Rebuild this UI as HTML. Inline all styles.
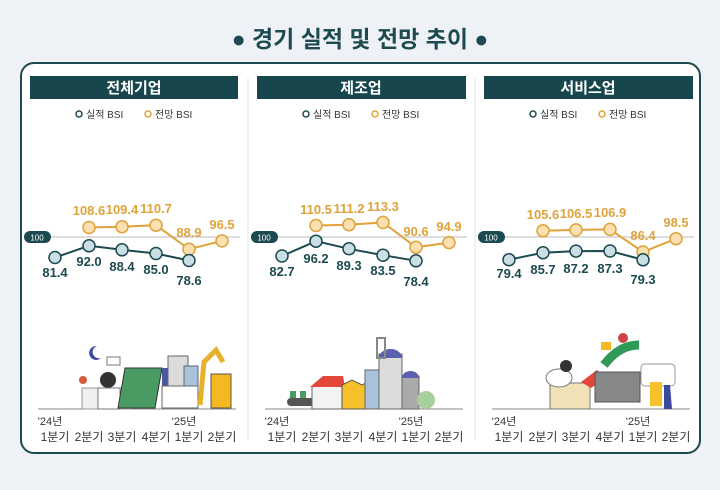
<!DOCTYPE html>
<html><head><meta charset="utf-8"><style>
body{margin:0;width:720px;height:485px;background:#eef1f5;overflow:hidden;font-family:"Liberation Sans","Noto Sans CJK KR",sans-serif}
</style></head><body>
<svg width="720" height="485" viewBox="0 0 720 485" xmlns="http://www.w3.org/2000/svg" font-family="Liberation Sans, Noto Sans CJK KR, sans-serif">
<rect x="0" y="0" width="720" height="485" fill="#eef1f5"/>
<text x="360" y="47" text-anchor="middle" font-size="23" font-weight="bold" fill="#1c4a50">● 경기 실적 및 전망 추이 ●</text>
<rect x="21" y="63" width="679" height="390" rx="13" fill="#fff" stroke="#1c4a50" stroke-width="2"/>
<line x1="248" y1="78" x2="248" y2="440" stroke="#e3e3e3"/>
<line x1="475" y1="78" x2="475" y2="440" stroke="#e3e3e3"/>
<defs>
<g id="axis">
<line x1="26" y1="237" x2="240" y2="237" stroke="#bbb" stroke-width="1"/>
<rect x="24" y="231" width="27" height="12" rx="6" fill="#1c4a50"/>
<text x="37" y="240.5" text-anchor="middle" font-size="8" fill="#fff">100</text>
<circle cx="79" cy="114" r="3" fill="none" stroke="#1c4a50" stroke-width="1.5"/>
<text x="86" y="118" font-size="10" fill="#333">실적 BSI</text>
<circle cx="148" cy="114" r="3" fill="none" stroke="#e0a23a" stroke-width="1.5"/>
<text x="155" y="118" font-size="10" fill="#333">전망 BSI</text>
<line x1="38" y1="409" x2="236" y2="409" stroke="#888" stroke-width="1"/>
<g font-size="12" fill="#333" text-anchor="middle">
<text x="50" y="425" font-size="11">'24년</text>
<text x="184" y="425" font-size="11">'25년</text>
<text x="55" y="441">1분기</text><text x="89" y="441">2분기</text><text x="122" y="441">3분기</text><text x="156" y="441">4분기</text><text x="189" y="441">1분기</text><text x="222" y="441">2분기</text>
</g>
</g>
</defs>

<!-- panel 1 -->
<g>
<rect x="30" y="76" width="208" height="23" fill="#17474d"/>
<text x="134" y="93" text-anchor="middle" font-size="15" font-weight="bold" fill="#fff">전체기업</text>
<use href="#axis"/>
<polyline points="89,227.5 122,226.7 156,225.2 189,249.2 222,240.9" fill="none" stroke="#e0a23a" stroke-width="2"/>
<polyline points="55,257.5 89,245.8 122,249.8 156,253.5 189,260.5" fill="none" stroke="#1c4a50" stroke-width="2"/>
<g fill="#fbe1b2" stroke="#e0a23a" stroke-width="1.5"><circle cx="89" cy="227.5" r="6"/><circle cx="122" cy="226.7" r="6"/><circle cx="156" cy="225.2" r="6"/><circle cx="189" cy="249.2" r="6"/><circle cx="222" cy="240.9" r="6"/></g>
<g fill="#c9dfe3" stroke="#1c4a50" stroke-width="1.5"><circle cx="55" cy="257.5" r="6"/><circle cx="89" cy="245.8" r="6"/><circle cx="122" cy="249.8" r="6"/><circle cx="156" cy="253.5" r="6"/><circle cx="189" cy="260.5" r="6"/></g>
<g font-size="13" font-weight="bold" text-anchor="middle" fill="#e0a23a"><text x="89" y="215">108.6</text><text x="122" y="214">109.4</text><text x="156" y="213">110.7</text><text x="189" y="237">88.9</text><text x="222" y="229">96.5</text></g>
<g font-size="13" font-weight="bold" text-anchor="middle" fill="#1c4a50"><text x="55" y="277">81.4</text><text x="89" y="266">92.0</text><text x="122" y="271">88.4</text><text x="156" y="274">85.0</text><text x="189" y="285">78.6</text></g>
<!-- illustration -->
<rect x="82" y="388" width="50" height="21" fill="#f0eeee" stroke="#999"/>
<circle cx="108" cy="380" r="8" fill="#333"/>
<rect x="98" y="388" width="22" height="21" fill="#fff" stroke="#777"/>
<polygon points="125,368 162,368 155,408 118,408" fill="#4a9a63" stroke="#333"/>
<rect x="162" y="368" width="14" height="40" fill="#4a57a3"/>
<rect x="168" y="356" width="20" height="52" fill="#dcdcdc" stroke="#666"/>
<rect x="184" y="366" width="14" height="42" fill="#a7c2da" stroke="#666"/>
<rect x="162" y="386" width="36" height="22" fill="#fff" stroke="#666"/>
<rect x="211" y="374" width="20" height="34" fill="#f5b820" stroke="#555"/>
<polyline points="200,405 204,362 216,350 223,362" fill="none" stroke="#e7b12b" stroke-width="5"/>
<circle cx="83" cy="380" r="4" fill="#d35b3b"/>
<path d="M97 346 a7 7 0 1 0 4 12 a6 6 0 1 1 -4 -12" fill="#3b4a9c"/>
<rect x="107" y="357" width="13" height="8" fill="#fff" stroke="#777"/>
</g>

<!-- panel 2 -->
<g transform="translate(227,0)">
<rect x="30" y="76" width="209" height="23" fill="#17474d"/>
<text x="134" y="93" text-anchor="middle" font-size="15" font-weight="bold" fill="#fff">제조업</text>
<use href="#axis"/>
<polyline points="89,225.5 122,224.7 156,222.4 189,247.3 222,242.6" fill="none" stroke="#e0a23a" stroke-width="2"/>
<polyline points="55,256 89,241.2 122,248.8 156,255.2 189,260.8" fill="none" stroke="#1c4a50" stroke-width="2"/>
<g fill="#fbe1b2" stroke="#e0a23a" stroke-width="1.5"><circle cx="89" cy="225.5" r="6"/><circle cx="122" cy="224.7" r="6"/><circle cx="156" cy="222.4" r="6"/><circle cx="189" cy="247.3" r="6"/><circle cx="222" cy="242.6" r="6"/></g>
<g fill="#c9dfe3" stroke="#1c4a50" stroke-width="1.5"><circle cx="55" cy="256" r="6"/><circle cx="89" cy="241.2" r="6"/><circle cx="122" cy="248.8" r="6"/><circle cx="156" cy="255.2" r="6"/><circle cx="189" cy="260.8" r="6"/></g>
<g font-size="13" font-weight="bold" text-anchor="middle" fill="#e0a23a"><text x="89" y="214">110.5</text><text x="122" y="213">111.2</text><text x="156" y="211">113.3</text><text x="189" y="236">90.6</text><text x="222" y="231">94.9</text></g>
<g font-size="13" font-weight="bold" text-anchor="middle" fill="#1c4a50"><text x="55" y="276">82.7</text><text x="89" y="263">96.2</text><text x="122" y="270">89.3</text><text x="156" y="275">83.5</text><text x="189" y="286">78.4</text></g>
<rect x="60" y="398" width="28" height="8" rx="4" fill="#555"/>
<rect x="63" y="391" width="6" height="7" fill="#4a9a63"/><rect x="73" y="391" width="6" height="7" fill="#4a9a63"/>
<rect x="85" y="386" width="30" height="23" fill="#f3f3f3" stroke="#666"/>
<polygon points="83,387 96,376 116,376 118,387" fill="#e4473a"/>
<polygon points="115,409 115,385 125,380 135,385 145,380 145,409" fill="#f5c02a" stroke="#555"/>
<rect x="138" y="370" width="18" height="39" fill="#a7c2da" stroke="#666"/>
<rect x="152" y="354" width="23" height="55" fill="#dcdcdc" stroke="#666"/>
<path d="M152 358 a11.5 9 0 0 1 23 0z" fill="#5b60ac"/>
<rect x="175" y="376" width="17" height="33" fill="#aaa" stroke="#666"/>
<path d="M175 378 a8.5 7 0 0 1 17 0z" fill="#5b60ac"/>
<rect x="150" y="338" width="8" height="20" fill="none" stroke="#888" stroke-width="2"/>
<ellipse cx="199" cy="400" rx="9" ry="9" fill="#a6cf9c"/>
</g>

<!-- panel 3 -->
<g transform="translate(454,0)">
<rect x="30" y="76" width="209" height="23" fill="#17474d"/>
<text x="134" y="93" text-anchor="middle" font-size="15" font-weight="bold" fill="#fff">서비스업</text>
<use href="#axis"/>
<polyline points="89,230.8 122,229.9 156,229.4 189,252 222,238.7" fill="none" stroke="#e0a23a" stroke-width="2"/>
<polyline points="55,259.7 89,252.7 122,251.1 156,251 189,259.8" fill="none" stroke="#1c4a50" stroke-width="2"/>
<g fill="#fbe1b2" stroke="#e0a23a" stroke-width="1.5"><circle cx="89" cy="230.8" r="6"/><circle cx="122" cy="229.9" r="6"/><circle cx="156" cy="229.4" r="6"/><circle cx="189" cy="252" r="6"/><circle cx="222" cy="238.7" r="6"/></g>
<g fill="#c9dfe3" stroke="#1c4a50" stroke-width="1.5"><circle cx="55" cy="259.7" r="6"/><circle cx="89" cy="252.7" r="6"/><circle cx="122" cy="251.1" r="6"/><circle cx="156" cy="251" r="6"/><circle cx="189" cy="259.8" r="6"/></g>
<g font-size="13" font-weight="bold" text-anchor="middle" fill="#e0a23a"><text x="89" y="219">105.6</text><text x="122" y="218">106.5</text><text x="156" y="217">106.9</text><text x="189" y="240">86.4</text><text x="222" y="227">98.5</text></g>
<g font-size="13" font-weight="bold" text-anchor="middle" fill="#1c4a50"><text x="55" y="278">79.4</text><text x="89" y="274">85.7</text><text x="122" y="273">87.2</text><text x="156" y="273">87.3</text><text x="189" y="284">79.3</text></g>
<rect x="96" y="383" width="40" height="26" fill="#f0e2b6" stroke="#777"/>
<ellipse cx="105" cy="378" rx="13" ry="9" fill="#fff" stroke="#777"/>
<circle cx="112" cy="366" r="6" fill="#333"/>
<polygon points="127,382 143,370 152,378 137,388" fill="#e4473a"/>
<rect x="141" y="372" width="45" height="30" fill="#888" stroke="#555"/>
<path d="M150 365 q15 -20 35 -20" stroke="#2f9a56" stroke-width="9" fill="none"/>
<circle cx="169" cy="338" r="5" fill="#c44"/>
<rect x="187" y="364" width="34" height="22" rx="4" fill="#fff" stroke="#999"/>
<rect x="196" y="382" width="12" height="24" fill="#f5c02a"/>
<polygon points="210,385 216,385 218,409 210,409" fill="#3b4a9c"/>
<rect x="147" y="342" width="10" height="8" fill="#f5b820"/>
</g>
</svg>
</body></html>
